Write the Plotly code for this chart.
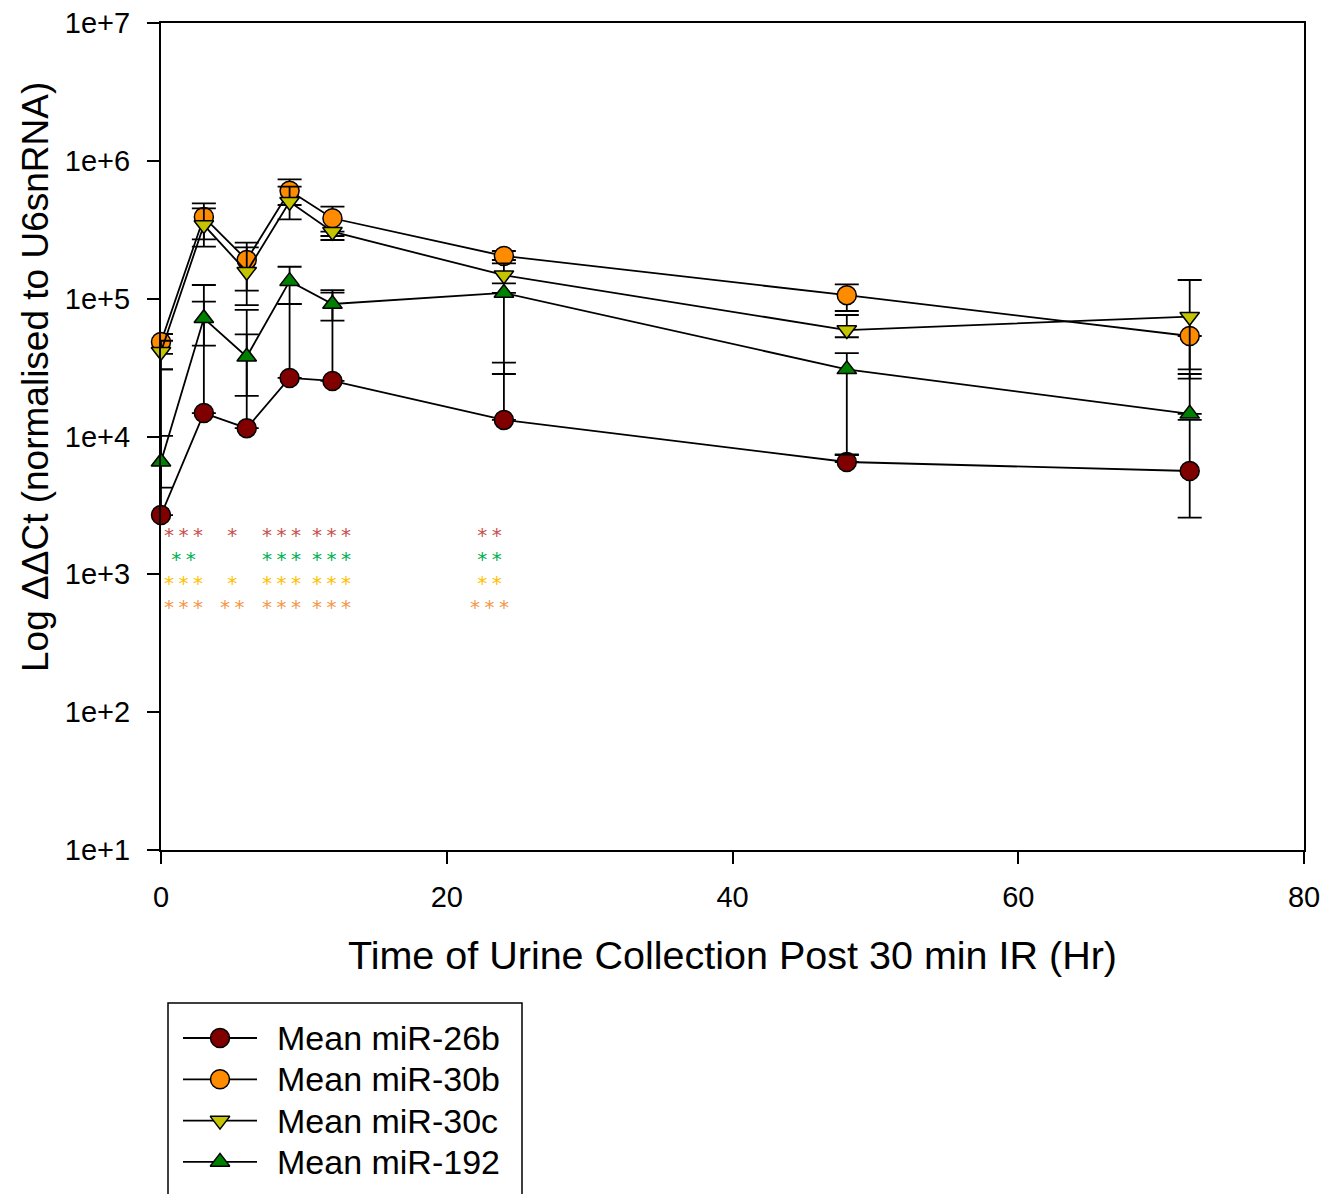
import math
import plotly.graph_objects as go

W, H = 1342, 1194
FONT = "Liberation Sans, Arial, Helvetica, sans-serif"

# ---- data -------------------------------------------------------------
hours = [0, 3, 6, 9, 12, 24, 48, 72]

mir26b_mean = [2690, 14800, 11500, 26600, 25300, 13200, 6530, 5620]
mir26b_hi = [10100, 125600, 82800, 91500, 115500, 34300, 7340, 13200]
mir26b_lo = [2690, 14800, 11500, 26600, 25300, 13200, 6530, 2580]

mir30b_mean = [48500, 391000, 191000, 607000, 383000, 204000, 106000, 53600]
mir30b_hi = [55400, 492000, 254700, 734500, 464800, 221700, 127100, 53600]
mir30b_lo = [39700, 269600, 114200, 478000, 284800, 190800, 81400, 30700]

mir30c_mean = [41200, 342000, 157000, 505000, 306000, 148000, 59200, 74000]
mir30c_hi = [49500, 452600, 235800, 649200, 306000, 180500, 76100, 136600]
mir30c_lo = [30700, 238300, 89900, 376500, 266500, 129200, 52500, 26300]

mir192_mean = [6560, 72000, 37900, 134000, 91500, 110000, 30700, 14600]
mir192_hi = [30700, 95100, 55100, 170500, 110500, 110000, 40200, 28400]
mir192_lo = [4250, 45600, 19700, 91500, 69200, 28400, 7400, 14600]

series_names = ["Mean miR-26b", "Mean miR-30b", "Mean miR-30c", "Mean miR-192"]
series_colors = ["#800000", "#ff8c00", "#c4c400", "#008000"]
series_symbols = ["circle", "circle", "triangle-down", "triangle-up"]
series_sizes = [19, 19, 17, 17]
series_data = [
    (mir26b_mean, mir26b_hi, mir26b_lo),
    (mir30b_mean, mir30b_hi, mir30b_lo),
    (mir30c_mean, mir30c_hi, mir30c_lo),
    (mir192_mean, mir192_hi, mir192_lo),
]

# significance asterisks, one column per time group, one row per series
sig_hours = [1.6, 5.0, 8.5, 12.0, 23.0]
sig_26b = ["***", "*", "***", "***", "**"]
sig_192 = ["**", "", "***", "***", "**"]
sig_30c = ["***", "*", "***", "***", "**"]
sig_30b = ["***", "**", "***", "***", "***"]
sig_rows = [(sig_26b, "#c8504d"), (sig_192, "#00b050"),
            (sig_30c, "#ffc000"), (sig_30b, "#f79646")]
SIG_TOP = 2420  # level of the first asterisk row

y_tickvals = [1e1, 1e2, 1e3, 1e4, 1e5, 1e6, 1e7]
y_ticktext = ["1e+1", "1e+2", "1e+3", "1e+4", "1e+5", "1e+6", "1e+7"]
x_tickvals = [0, 20, 40, 60, 80]

# ---- plot area geometry (pixels) ---------------------------------------
PL, PR, PT, PB = 161, 1304, 23, 850

fig = go.Figure()

for name, color, sym, size, (m, hi, lo) in zip(
        series_names, series_colors, series_symbols, series_sizes, series_data):
    fig.add_trace(go.Scatter(
        x=hours, y=m, mode="lines+markers", name=name, showlegend=False,
        line=dict(color="black", width=1.8),
        marker=dict(symbol=sym, size=size, color=color,
                    line=dict(color="black", width=1.5)),
        error_y=dict(type="data", symmetric=False,
                     array=[h - v for h, v in zip(hi, m)],
                     arrayminus=[v - l for v, l in zip(m, lo)],
                     color="black", thickness=1.8, width=12),
        cliponaxis=False,
    ))

# significance markers: each time group is one stacked, colour-coded text
for j, hx in enumerate(sig_hours):
    lines = []
    for labels, color in sig_rows:
        lab = labels[j] if labels[j] else "\u00a0"
        lines.append('<span style="color:%s;font-size:20px;letter-spacing:4.5px">%s</span>'
                     % (color, lab))
    fig.add_annotation(x=hx, y=math.log10(SIG_TOP), xref="x", yref="y",
                       text="<br>".join(lines), showarrow=False,
                       xanchor="center", yanchor="top", align="center",
                       xshift=2,
                       font=dict(family="DejaVu Sans", size=18.5, color="black"))

# ---- legend drawn on a full-figure helper axis (pixel units) ----------
LEG_X0, LEG_X1, LEG_Y0 = 168, 522, 1003
LEG_ROW0, LEG_DY = 1038, 41.3
SW0, SW1, TXT_X = 183, 257, 275

fig.add_shape(type="rect", xref="x2", yref="y2", x0=LEG_X0, x1=LEG_X1,
              y0=LEG_Y0, y1=H + 10, line=dict(color="black", width=1.5),
              fillcolor="rgba(0,0,0,0)")

for i, (name, color, sym, size) in enumerate(
        zip(series_names, series_colors, series_symbols, series_sizes)):
    yy = LEG_ROW0 + i * LEG_DY
    fig.add_trace(go.Scatter(
        x=[SW0, SW1], y=[yy, yy], xaxis="x2", yaxis="y2", mode="lines",
        showlegend=False, hoverinfo="skip",
        line=dict(color="black", width=1.8)))
    fig.add_trace(go.Scatter(
        x=[(SW0 + SW1) / 2], y=[yy], xaxis="x2", yaxis="y2", mode="markers",
        showlegend=False, hoverinfo="skip",
        marker=dict(symbol=sym, size=size, color=color,
                    line=dict(color="black", width=1.5))))
    fig.add_annotation(x=TXT_X, y=yy, xref="x2", yref="y2", text=name,
                       showarrow=False, xanchor="left", yanchor="middle",
                       font=dict(family=FONT, size=34, color="black"))

# ---- axis titles -------------------------------------------------------
fig.add_annotation(x=(PL + PR) / 2 / W, y=1 - 955 / H, xref="paper", yref="paper",
                   text="Time of Urine Collection Post 30 min IR (Hr)",
                   showarrow=False, xanchor="center", yanchor="middle",
                   font=dict(family=FONT, size=39.5, color="black"))
fig.add_annotation(x=35 / W, y=1 - 377 / H, xref="paper", yref="paper",
                   text="Log \u0394\u0394Ct (normalised to U6snRNA)", textangle=-90,
                   showarrow=False, xanchor="center", yanchor="middle",
                   font=dict(family=FONT, size=37, color="black"))

axis_common = dict(showline=True, linecolor="black", linewidth=2, mirror=True,
                   ticks="outside", ticklen=12, tickwidth=2, tickcolor="black",
                   showgrid=False, zeroline=False,
                   tickfont=dict(family=FONT, size=29, color="black"))

fig.update_layout(
    width=W, height=H, autosize=False,
    margin=dict(l=0, r=0, t=0, b=0, pad=0, autoexpand=False),
    paper_bgcolor="white", plot_bgcolor="rgba(0,0,0,0)",
    font=dict(family=FONT, color="black"),
    xaxis=dict(domain=[PL / W, PR / W], range=[0, 80], tickvals=x_tickvals,
               anchor="y", ticklabelstandoff=8, **axis_common),
    yaxis=dict(domain=[1 - PB / H, 1 - PT / H], type="log", range=[1, 7],
               tickvals=y_tickvals, ticktext=y_ticktext, anchor="x",
               ticklabelstandoff=11, **axis_common),
    xaxis2=dict(domain=[0, 1], range=[0, W], visible=False, anchor="y2",
                fixedrange=True),
    yaxis2=dict(domain=[0, 1], range=[H, 0], visible=False, anchor="x2",
                fixedrange=True),
    showlegend=False,
)

fig.write_html("out.html")
